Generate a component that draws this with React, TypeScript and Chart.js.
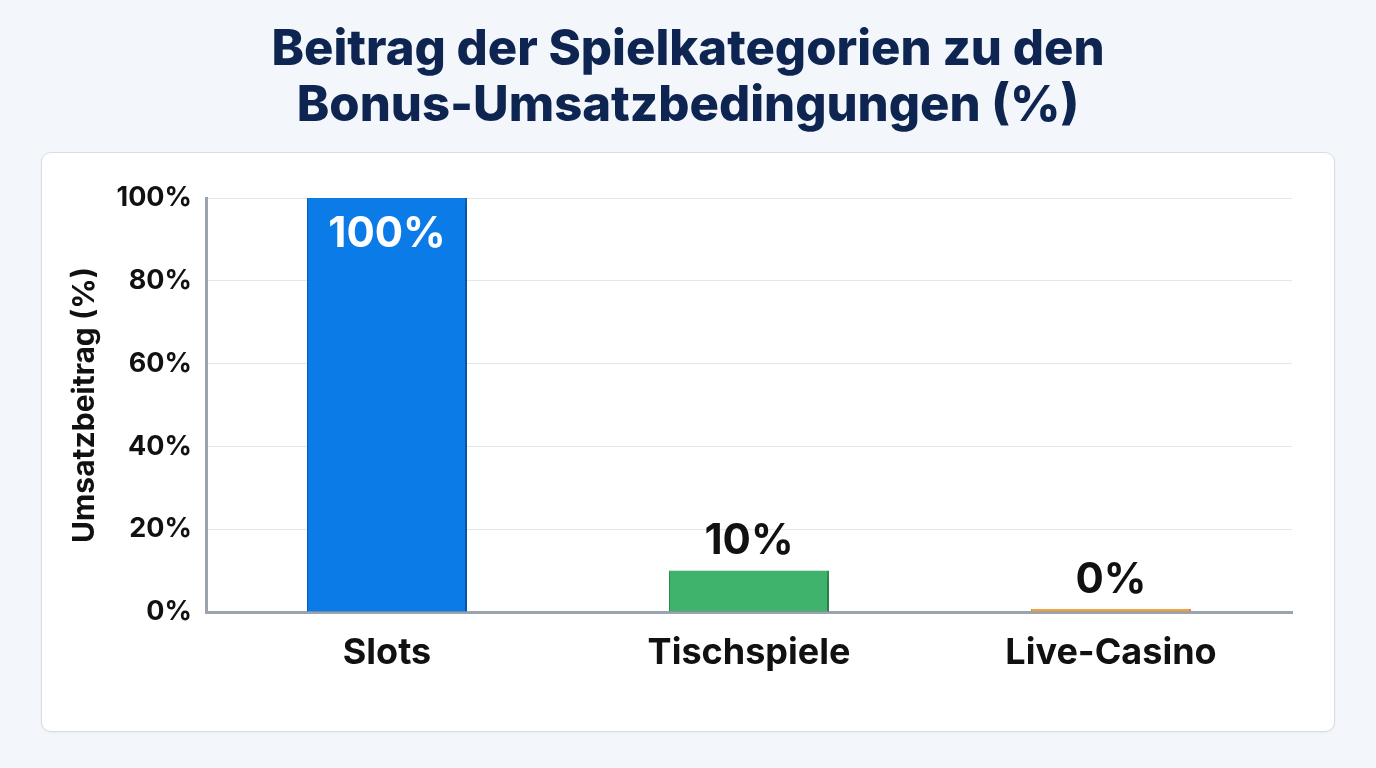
import React, { useEffect, useRef } from "react";
import { Chart, registerables, Plugin } from "chart.js";

Chart.register(...registerables);

const categories = ["Slots", "Tischspiele", "Live-Casino"];
const contribution = [100, 10, 0];
const barColors = ["#0b7be8", "#3fb36c", "#f1a340"];
const barEdges = ["#0a66c0", "#2f9a58", "#e08f2c"];
const yTicks = [0, 20, 40, 60, 80, 100];

const FONT = "Inter, 'Noto Sans', sans-serif";

// soft drop shadow under the bars
const shadowPlugin: Plugin<"bar"> = {
  id: "barShadow",
  beforeDatasetDraw(chart) {
    const ctx = chart.ctx;
    ctx.save();
    ctx.shadowColor = "rgba(0, 0, 0, 0.3)";
    ctx.shadowBlur = 10;
    ctx.shadowOffsetX = 2;
    ctx.shadowOffsetY = 4;
  },
  afterDatasetDraw(chart) {
    chart.ctx.restore();
  },
};

// value labels: inside for tall bars, above for short ones
const valueLabels: Plugin<"bar"> = {
  id: "valueLabels",
  afterDatasetsDraw(chart) {
    const ctx = chart.ctx;
    const meta = chart.getDatasetMeta(0);
    ctx.save();
    ctx.font = `700 42px ${FONT}`;
    ctx.textAlign = "center";
    ctx.textBaseline = "middle";
    meta.data.forEach((bar: any, i) => {
      const v = contribution[i];
      const text = `${v}%`;
      if (v >= 50) {
        ctx.fillStyle = "#ffffff";
        ctx.fillText(text, bar.x, bar.y + 36);
      } else {
        ctx.fillStyle = "#111111";
        ctx.fillText(text, bar.x, bar.y - 29);
      }
    });
    ctx.restore();
  },
};

const ContributionChart = () => {
  const canvasRef = useRef<HTMLCanvasElement | null>(null);

  useEffect(() => {
    const ctx = canvasRef.current?.getContext("2d");
    if (!ctx) return;

    const chart = new Chart(ctx, {
      type: "bar",
      data: {
        labels: categories,
        datasets: [
          {
            data: contribution,
            backgroundColor: barColors,
            borderColor: barEdges,
            borderWidth: { top: 0, left: 1, right: 2, bottom: 0 },
            borderSkipped: false,
            barPercentage: 0.442,
            categoryPercentage: 1,
            minBarLength: 3,
          },
        ],
      },
      options: {
        animation: false,
        responsive: false,
        maintainAspectRatio: false,
        layout: { padding: { top: 46, right: 43, left: 0, bottom: 0 } },
        plugins: {
          legend: { display: false },
          tooltip: { enabled: false },
        },
        scales: {
          x: {
            grid: { display: false, drawTicks: false },
            border: { display: true, color: "#9aa3ae", width: 3 },
            ticks: {
              color: "#111111",
              padding: 20,
              font: { family: FONT, size: 36, weight: 700 },
            },
            afterFit: (scale: any) => {
              scale.height = 120;
            },
          },
          y: {
            min: 0,
            max: 100,
            afterBuildTicks: (scale: any) => {
              scale.ticks = yTicks.map((value) => ({ value }));
            },
            grid: { color: "#e3e6ea", lineWidth: 1, drawTicks: false },
            border: { display: true, color: "#9aa3ae", width: 3 },
            ticks: {
              color: "#111111",
              padding: 14,
              font: { family: FONT, size: 27, weight: 700 },
              callback: (v: any) => `${v}%`,
            },
            title: {
              display: true,
              text: "Umsatzbeitrag (%)",
              color: "#111111",
              font: { family: FONT, size: 30, weight: 700 },
              padding: { top: 26, bottom: 0 },
            },
            afterFit: (scale: any) => {
              scale.width = 165;
            },
          },
        },
      },
      plugins: [shadowPlugin, valueLabels],
    });

    return () => {
      chart.destroy();
    };
  }, []);

  return <canvas ref={canvasRef} width={1294} height={580} />;
};

export default function App() {
  useEffect(() => {
    document.body.style.margin = "0";
  }, []);

  return (
    <div
      style={{
        position: "relative",
        width: 1376,
        height: 768,
        background: "#f3f6fa",
        fontFamily: FONT,
        overflow: "hidden",
      }}
    >
      <div
        style={{
          position: "absolute",
          top: 20,
          left: 0,
          width: 1376,
          textAlign: "center",
          color: "#0d2550",
          fontSize: 49,
          fontWeight: 800,
          lineHeight: "56px",
        }}
      >
        Beitrag der Spielkategorien zu den
        <br />
        Bonus-Umsatzbedingungen (%)
      </div>
      <div
        style={{
          position: "absolute",
          left: 41,
          top: 152,
          width: 1294,
          height: 580,
          background: "#ffffff",
          border: "1px solid #d9dde3",
          borderRadius: 10,
          boxSizing: "border-box",
          boxShadow: "0 1px 3px rgba(0,0,0,0.05)",
          overflow: "hidden",
        }}
      >
        <div style={{ position: "absolute", left: -1, top: -1 }}>
          <ContributionChart />
        </div>
      </div>
    </div>
  );
}
